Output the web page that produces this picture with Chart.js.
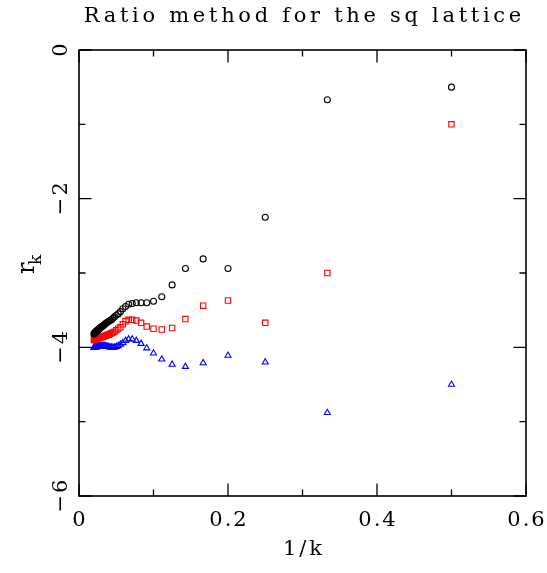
<!DOCTYPE html>
<html>
<head>
<meta charset="utf-8">
<script src="https://cdn.jsdelivr.net/npm/chart.js@4.4.1/dist/chart.umd.min.js"></script>
<style>
  html, body { margin: 0; padding: 0; background: #fff; }
  #wrap { width: 547px; height: 573px; }
</style>
</head>
<body>
<div id="wrap"><canvas id="chart" width="547" height="573"></canvas></div>
<script>
"use strict";

// k = 2 .. 50, plotted against 1/k
const kValues = [];
for (let k = 2; k <= 50; k++) kValues.push(k);

const blackSeries = [
  -0.50, -0.67, -2.25, -2.94, -2.81, -2.94, -3.16, -3.32, -3.38, -3.40,
  -3.40, -3.40, -3.41, -3.42, -3.45, -3.48, -3.52, -3.55, -3.57, -3.59,
  -3.61, -3.63, -3.64, -3.65, -3.66, -3.67, -3.68, -3.69, -3.70, -3.71,
  -3.72, -3.72, -3.73, -3.74, -3.74, -3.75, -3.76, -3.76, -3.77, -3.77,
  -3.78, -3.78, -3.79, -3.79, -3.80, -3.80, -3.81, -3.81, -3.82
];
const redSeries = [
  -1.00, -3.00, -3.67, -3.37, -3.44, -3.62, -3.74, -3.76, -3.75, -3.72,
  -3.67, -3.64, -3.63, -3.63, -3.65, -3.69, -3.73, -3.75, -3.77, -3.79,
  -3.80, -3.81, -3.82, -3.83, -3.83, -3.84, -3.84, -3.85, -3.85, -3.85,
  -3.86, -3.86, -3.86, -3.86, -3.87, -3.87, -3.87, -3.87, -3.87, -3.88,
  -3.88, -3.88, -3.88, -3.88, -3.89, -3.89, -3.89, -3.90, -3.90
];
const blueSeries = [
  -4.50, -4.88, -4.20, -4.11, -4.21, -4.26, -4.23, -4.16, -4.08, -4.01,
  -3.95, -3.91, -3.89, -3.89, -3.91, -3.94, -3.96, -3.98, -3.99, -4.00,
  -4.00, -4.00, -4.00, -3.99, -3.99, -3.99, -3.98, -3.98, -3.98, -3.98,
  -3.98, -3.98, -3.98, -3.98, -3.98, -3.99, -3.99, -3.99, -3.99, -3.99,
  -3.99, -3.99, -4.00, -4.00, -4.00, -4.00, -4.00, -4.00, -4.00
];

const xTickLabels = ["0", "0.2", "0.4", "0.6"];
const xMajor = [0, 0.2, 0.4, 0.6];
const xMinor = [0.1, 0.3, 0.5];
const yTickLabels = ["0", "\u22122", "\u22124", "\u22126"];
const yMajor = [0, -2, -4, -6];
const yMinor = [-1, -3, -5];

const titleText = "Ratio method for the sq lattice";
const xTitle = "1/k";
const FONT = "'DejaVu Serif', 'Liberation Serif', serif";

function toPoints(values) {
  return values.map((v, i) => ({ x: 1 / kValues[i], y: v }));
}

// centred text with extra letter spacing (spacing is added after each glyph)
function spacedText(ctx, text, x, y, spacing) {
  ctx.letterSpacing = spacing + "px";
  ctx.fillText(text, x + spacing / 2, y);
  ctx.letterSpacing = "0px";
}

const framePlugin = {
  id: "frame",
  afterDraw(chart) {
    const { ctx, chartArea: a, scales } = chart;
    const xs = scales.x, ys = scales.y;
    ctx.save();
    ctx.strokeStyle = "#000";
    ctx.lineWidth = 1.6;
    ctx.strokeRect(a.left, a.top, a.right - a.left, a.bottom - a.top);

    const major = 12.5, minor = 6.5;
    ctx.lineWidth = 1.3;
    ctx.beginPath();
    xMajor.concat(xMinor).forEach((v) => {
      const len = xMajor.includes(v) ? major : minor;
      const px = xs.getPixelForValue(v);
      ctx.moveTo(px, a.bottom); ctx.lineTo(px, a.bottom - len);
      ctx.moveTo(px, a.top); ctx.lineTo(px, a.top + len);
    });
    yMajor.concat(yMinor).forEach((v) => {
      const len = yMajor.includes(v) ? major : minor;
      const py = ys.getPixelForValue(v);
      ctx.moveTo(a.left, py); ctx.lineTo(a.left + len, py);
      ctx.moveTo(a.right, py); ctx.lineTo(a.right - len, py);
    });
    ctx.stroke();

    ctx.fillStyle = "#000";
    ctx.font = "21px " + FONT;
    ctx.textAlign = "center";
    ctx.textBaseline = "middle";
    xMajor.forEach((v, i) => {
      spacedText(ctx, xTickLabels[i], xs.getPixelForValue(v), a.bottom + 25, 2);
    });
    yMajor.forEach((v, i) => {
      ctx.save();
      ctx.translate(a.left - 17, ys.getPixelForValue(v));
      ctx.rotate(-Math.PI / 2);
      spacedText(ctx, yTickLabels[i], 0, 0, 2);
      ctx.restore();
    });

    // titles
    ctx.font = "21px " + FONT;
    spacedText(ctx, titleText, (a.left + a.right) / 2, 17, 3.7);
    spacedText(ctx, xTitle, (a.left + a.right) / 2, a.bottom + 54, 3);

    ctx.save();
    ctx.translate(28, (a.top + a.bottom) / 2 - 5);
    ctx.rotate(-Math.PI / 2);
    ctx.textAlign = "left";
    ctx.font = "24px " + FONT;
    ctx.fillText("r", -6, 0);
    ctx.font = "17px " + FONT;
    ctx.fillText("k", 3, 9);
    ctx.restore();

    ctx.restore();
  },
};

const chart = new Chart(document.getElementById("chart").getContext("2d"), {
  type: "scatter",
  data: {
    datasets: [
      {
        label: "black",
        data: toPoints(blackSeries),
        pointStyle: "circle",
        pointRadius: 3,
        borderColor: "#000",
        backgroundColor: "rgba(0,0,0,0)",
        borderWidth: 1.1,
      },
      {
        label: "red",
        data: toPoints(redSeries),
        pointStyle: "rect",
        pointRadius: 3.8,
        borderColor: "#ff0000",
        backgroundColor: "rgba(0,0,0,0)",
        borderWidth: 1.1,
      },
      {
        label: "blue",
        data: toPoints(blueSeries),
        pointStyle: "triangle",
        pointRadius: 3.5,
        borderColor: "#0000ff",
        backgroundColor: "rgba(0,0,0,0)",
        borderWidth: 1.1,
      },
    ],
  },
  options: {
    responsive: false,
    animation: false,
    layout: { padding: { left: 79, right: 21, top: 50, bottom: 77 } },
    plugins: { legend: { display: false }, tooltip: { enabled: false } },
    scales: {
      x: { type: "linear", min: 0, max: 0.6, display: false },
      y: { type: "linear", min: -6, max: 0, display: false },
    },
  },
  plugins: [framePlugin],
});
</script>
</body>
</html>
